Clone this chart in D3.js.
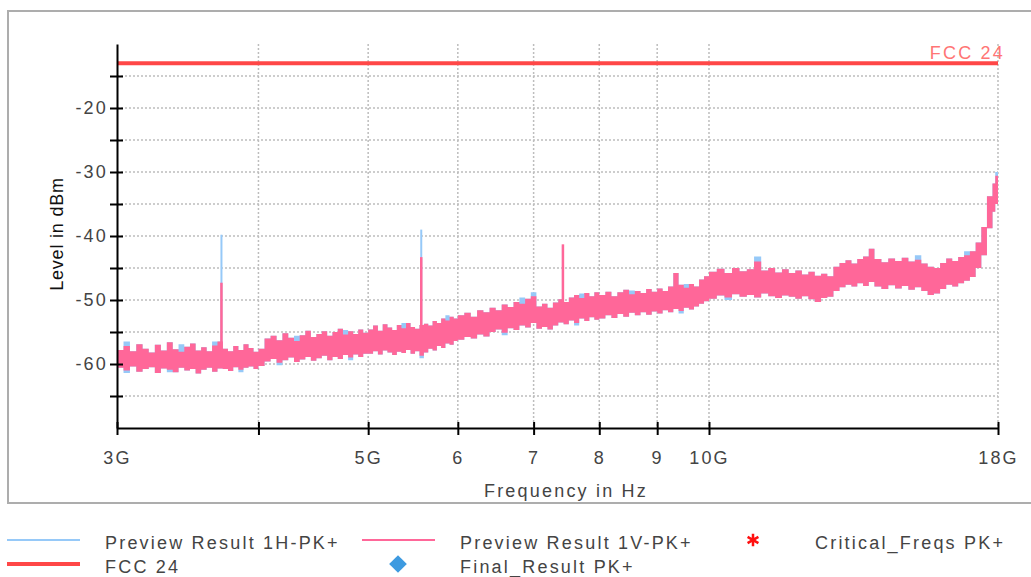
<!DOCTYPE html>
<html>
<head>
<meta charset="utf-8">
<script src="https://cdn.jsdelivr.net/npm/d3@7"></script>
<style>
  body { margin: 0; background: #fff; }
  svg { display: block; font-family: "Liberation Sans", Arial, sans-serif; }
  .lbl { fill: #444; font-size: 18px; letter-spacing: 2.2px; }
</style>
</head>
<body>
<svg id="chart" width="1031" height="577"></svg>
<script>
// Sweep frequencies (GHz)
const freqs = [
  3.00,3.04,3.08,3.12,3.16,3.20,3.24,3.28,3.32,3.36,3.40,3.44,3.48,3.52,3.56,3.60,3.64,3.68,3.72,3.76,3.80,3.84,3.88,3.92,3.96,
  4.00,4.05,4.10,4.15,4.20,4.25,4.30,4.35,4.40,4.45,4.50,4.55,4.60,4.65,4.70,4.75,4.80,4.85,4.90,4.95,
  5.00,5.05,5.10,5.15,5.20,5.25,5.30,5.35,5.40,5.45,5.50,5.55,5.60,5.65,5.70,5.75,5.80,5.85,5.90,5.95,
  6.00,6.08,6.16,6.24,6.32,6.40,6.48,6.56,6.64,6.72,6.80,6.88,6.96,7.04,7.12,7.20,7.28,7.36,7.44,7.52,7.60,7.68,7.76,7.84,7.92,
  8.0,8.1,8.2,8.3,8.4,8.5,8.6,8.7,8.8,8.9,9.0,9.1,9.2,9.3,9.4,9.5,9.6,9.7,9.8,9.9,
  10.00,10.16,10.32,10.48,10.64,10.80,10.96,11.12,11.28,11.44,11.60,11.76,11.92,12.08,12.24,12.40,12.56,12.72,12.88,13.04,13.20,13.36,13.52,13.68,13.84,
  14.0,14.2,14.4,14.6,14.8,15.0,15.2,15.4,15.6,15.8,16.0,16.2,16.4,16.6,16.8,17.0,17.2,17.4,17.6,17.8,17.9,18.0
];

// Preview Result 1V-PK+ (pink), max / min per sweep bin, dBm
const vHi = [
  -57.8,-57.2,-58.0,-56.9,-57.6,-58.2,-57.0,-57.9,-56.6,-57.7,-58.1,-57.3,-56.8,-57.9,-57.4,-58.0,-57.1,-56.5,-57.6,-58.0,-57.2,-57.8,-56.9,-57.5,-58.1,
  -57.6,-56.0,-55.6,-56.3,-55.2,-55.9,-56.4,-55.5,-54.8,-55.8,-55.3,-54.9,-55.6,-55.0,-54.5,-55.4,-54.9,-55.3,-54.6,-55.1,
  -54.6,-54.0,-54.8,-53.8,-54.3,-54.7,-53.9,-54.4,-53.6,-54.2,-54.5,-53.9,-53.7,-54.0,-53.3,-53.6,-52.9,-53.2,-52.6,-52.9,
  -52.4,-52.0,-52.6,-51.6,-51.9,-51.2,-51.6,-50.7,-51.1,-50.3,-50.6,-49.8,-49.4,-51.0,-50.6,-51.2,-50.4,-49.9,-50.3,-49.6,-49.2,-49.7,-48.9,-49.4,-48.8,
  -49.2,-48.7,-49.4,-48.8,-48.4,-49.1,-48.6,-48.9,-48.3,-48.7,-48.2,-48.6,-47.9,-45.8,-47.6,-48.1,-47.5,-47.9,-46.8,-46.3,
  -45.6,-45.1,-45.8,-45.0,-45.5,-45.2,-44.0,-45.4,-45.0,-45.7,-45.2,-45.8,-45.4,-46.0,-45.6,-46.2,-45.9,-46.3,-44.8,-44.2,-43.8,-44.3,-43.6,-43.2,-42.0,
  -43.6,-44.1,-43.5,-43.9,-43.4,-44.0,-43.7,-44.3,-44.8,-45.0,-44.2,-43.5,-43.9,-43.3,-43.0,-42.4,-41.0,-38.6,-33.8,-31.8,-30.6,-30.4
];
const vLo = [
  -60.6,-61.0,-60.4,-61.2,-60.8,-60.5,-61.4,-60.7,-60.9,-61.3,-60.6,-61.0,-60.8,-61.5,-60.9,-60.6,-61.2,-60.7,-60.8,-61.1,-60.5,-60.9,-60.6,-60.4,-60.8,
  -60.3,-59.6,-59.2,-59.8,-59.4,-59.0,-59.7,-59.3,-58.9,-59.5,-59.1,-58.7,-59.4,-58.9,-59.2,-58.6,-59.0,-58.5,-58.9,-58.4,
  -58.4,-58.0,-58.5,-57.9,-58.2,-58.6,-58.1,-58.3,-57.8,-58.4,-58.0,-58.7,-58.2,-57.6,-57.9,-57.2,-57.5,-56.8,-57.0,-56.4,
  -56.2,-55.8,-56.0,-55.4,-55.7,-55.0,-54.6,-55.1,-54.4,-54.7,-54.0,-54.3,-53.6,-54.5,-54.2,-54.6,-54.0,-53.5,-53.8,-53.2,-53.6,-52.9,-53.3,-52.7,-53.1,
  -52.9,-52.4,-52.8,-52.2,-52.6,-52.0,-52.4,-51.9,-52.3,-51.8,-52.1,-51.6,-51.9,-51.4,-51.7,-51.2,-51.5,-51.0,-50.6,-50.2,
  -49.8,-49.3,-49.6,-49.1,-49.5,-49.2,-49.6,-49.0,-49.4,-49.7,-49.3,-49.5,-49.8,-49.4,-49.9,-50.3,-49.7,-49.5,-48.6,-48.0,-47.6,-47.9,-47.4,-47.8,-47.2,
  -47.9,-48.3,-47.7,-48.2,-47.8,-48.4,-48.0,-48.6,-49.2,-49.0,-48.3,-47.6,-47.9,-47.4,-47.0,-46.4,-45.0,-43.0,-38.8,-36.2,-35.0,-34.8
];

// Preview Result 1H-PK+ (blue), max / min per sweep bin, dBm
const hHi = [
  -57.8,-56.5,-58.0,-56.9,-57.6,-58.2,-57.0,-57.9,-56.6,-57.7,-56.9,-57.3,-56.8,-57.9,-57.4,-58.0,-56.5,-56.5,-57.6,-58.0,-57.2,-57.8,-56.9,-57.5,-58.1,
  -57.6,-56.0,-55.6,-56.3,-55.2,-55.9,-55.6,-55.5,-54.8,-55.8,-55.3,-54.9,-55.6,-55.0,-54.5,-54.7,-54.9,-55.3,-54.6,-55.1,
  -54.6,-54.0,-54.8,-53.8,-54.3,-54.7,-53.9,-53.6,-53.6,-54.2,-54.5,-53.9,-53.7,-54.0,-53.3,-53.6,-52.9,-52.4,-52.6,-52.9,
  -52.4,-52.0,-52.6,-51.6,-51.9,-51.2,-51.6,-50.7,-51.1,-50.3,-49.6,-49.8,-48.8,-51.0,-50.6,-51.2,-50.4,-49.9,-50.3,-49.6,-49.2,-49.0,-48.9,-49.4,-48.8,
  -49.2,-48.7,-49.4,-48.8,-48.4,-48.5,-48.6,-48.9,-48.3,-48.7,-48.2,-48.6,-47.9,-45.8,-47.6,-47.5,-47.5,-47.9,-46.8,-46.3,
  -45.6,-45.1,-45.8,-45.0,-45.5,-45.2,-43.2,-45.4,-45.0,-45.7,-45.2,-45.8,-45.4,-46.0,-45.6,-46.2,-45.9,-46.3,-44.8,-44.2,-43.8,-44.3,-43.6,-43.2,-42.0,
  -43.6,-44.1,-43.5,-43.9,-43.4,-44.0,-43.0,-44.3,-44.8,-45.0,-44.2,-43.5,-43.9,-43.3,-42.4,-42.4,-41.0,-38.6,-33.8,-31.8,-30.0,-29.9
];
const hLo = [
  -60.6,-61.4,-60.4,-61.2,-60.8,-60.5,-61.4,-60.7,-61.3,-61.3,-60.6,-61.0,-60.8,-61.5,-60.9,-60.6,-61.2,-60.7,-60.8,-61.1,-60.5,-61.3,-60.6,-60.4,-60.8,
  -60.3,-59.6,-59.2,-60.2,-59.4,-59.0,-59.7,-59.3,-58.9,-59.5,-59.1,-58.7,-59.4,-58.9,-59.2,-58.6,-59.4,-58.5,-58.9,-58.4,
  -58.4,-58.0,-58.5,-57.9,-58.2,-58.6,-58.1,-58.3,-57.8,-58.4,-58.0,-59.1,-58.2,-57.6,-57.9,-57.2,-57.5,-56.8,-57.0,-56.4,
  -56.2,-55.8,-56.0,-55.4,-55.7,-55.0,-54.6,-55.5,-54.4,-54.7,-54.0,-54.3,-53.6,-54.5,-54.2,-54.6,-54.0,-53.5,-53.8,-53.2,-54.0,-52.9,-53.3,-52.7,-53.1,
  -52.9,-52.4,-52.8,-52.2,-52.6,-52.0,-52.4,-51.9,-52.3,-51.8,-52.1,-51.6,-51.9,-51.4,-52.1,-51.2,-51.5,-51.0,-50.6,-50.2,
  -49.8,-49.3,-50.0,-49.1,-49.5,-49.2,-49.6,-49.0,-49.4,-49.7,-49.3,-49.5,-49.8,-49.4,-49.9,-50.3,-49.7,-49.5,-48.6,-48.0,-47.6,-47.9,-47.4,-47.8,-47.2,
  -47.9,-48.3,-47.7,-48.2,-47.8,-48.4,-48.0,-48.6,-49.2,-49.0,-48.3,-47.6,-47.9,-47.4,-47.0,-46.4,-45.0,-43.0,-38.8,-36.2,-35.0,-34.8
];

// narrow spurs
const spurFreqs = [3.71, 5.57, 7.43];
const spurBase = [-58, -55, -51];
const spurH = [-39.8, -39.0, -41.5];
const spurV = [-47.3, -43.3, -41.3];

// limit line
const limitFreqs = [3, 18];
const limitLevel = [-13, -13];

// axis ticks
const xTicks = [3, 4, 5, 6, 7, 8, 9, 10, 18];
const xTickLabels = ["3G", "", "5G", "6", "7", "8", "9", "10G", "18G"];
const yTicks = [-65, -60, -55, -50, -45, -40, -35, -30, -25, -20, -15];

const blue = "#96c9f8", pink = "#ff6799", red = "#ff4747";

const svg = d3.select("#chart");

const x = d3.scaleLog().domain([3, 18]).range([117, 998]);
const y = d3.scaleLinear().domain([-70, -10]).range([428, 44]);

// frame (right edge runs off the page)
svg.append("rect")
  .attr("x", 8).attr("y", 11).attr("width", 1030).attr("height", 492)
  .attr("fill", "none").attr("stroke", "#adadad").attr("stroke-width", 2);

// grid
const grid = svg.append("g").attr("stroke", "#bdbdbd").attr("stroke-width", 1.5)
  .attr("stroke-dasharray", "2,2");
grid.selectAll(".hg").data(yTicks).join("line").attr("class", "hg")
  .attr("x1", x(3)).attr("x2", x(18)).attr("y1", d => y(d)).attr("y2", d => y(d));
grid.selectAll(".vg").data(xTicks.slice(1)).join("line").attr("class", "vg")
  .attr("x1", d => x(d)).attr("x2", d => x(d)).attr("y1", y(-10)).attr("y2", y(-70));

// traces
const pts = freqs.map((f, i) => ({ f, hHi: hHi[i], hLo: hLo[i], vHi: vHi[i], vLo: vLo[i] }));

const areaH = d3.area().curve(d3.curveStepAfter)
  .x(d => x(d.f)).y0(d => y(d.hLo)).y1(d => y(d.hHi));
const areaV = d3.area().curve(d3.curveStepAfter)
  .x(d => x(d.f)).y0(d => y(d.vLo)).y1(d => y(d.vHi));

svg.append("path").datum(pts).attr("d", areaH).attr("fill", blue);
svg.selectAll(".spH").data(spurFreqs).join("line").attr("class", "spH")
  .attr("x1", d => x(d)).attr("x2", d => x(d))
  .attr("y1", (d, i) => y(spurBase[i])).attr("y2", (d, i) => y(spurH[i]))
  .attr("stroke", blue).attr("stroke-width", 2);

svg.append("path").datum(pts).attr("d", areaV).attr("fill", pink);
svg.selectAll(".spV").data(spurFreqs).join("line").attr("class", "spV")
  .attr("x1", d => x(d)).attr("x2", d => x(d))
  .attr("y1", (d, i) => y(spurBase[i])).attr("y2", (d, i) => y(spurV[i]))
  .attr("stroke", pink).attr("stroke-width", 2.5);

// limit line
svg.append("path")
  .datum(limitFreqs.map((f, i) => [f, limitLevel[i]]))
  .attr("d", d3.line().x(d => x(d[0])).y(d => y(d[1])))
  .attr("stroke", red).attr("stroke-width", 4).attr("fill", "none");
svg.append("text").attr("class", "lbl")
  .attr("x", 1005).attr("y", 59).attr("text-anchor", "end")
  .style("fill", "#ff7575").text("FCC 24");

// axes
const xAxis = svg.append("g").attr("transform", `translate(0,${y(-70)})`)
  .call(d3.axisBottom(x).tickValues(xTicks).tickFormat((d, i) => xTickLabels[i]).tickSizeOuter(0));
xAxis.select(".domain").attr("stroke", "#000").attr("stroke-width", 2);
xAxis.selectAll(".tick line").attr("y1", -6).attr("y2", 7).attr("stroke-width", 2);
xAxis.selectAll(".tick text").attr("class", "lbl").attr("y", 36).attr("dy", 0)
  .attr("font-family", null).attr("font-size", null);

const yAxis = svg.append("g").attr("transform", `translate(${x(3)},0)`)
  .call(d3.axisLeft(y).tickValues(yTicks).tickFormat(d => d % 10 === 0 ? d : "").tickSizeOuter(0));
yAxis.select(".domain").attr("stroke", "#000").attr("stroke-width", 2);
yAxis.selectAll(".tick line").attr("x1", -7).attr("x2", 6).attr("stroke-width", 2);
yAxis.selectAll(".tick text").attr("class", "lbl").attr("x", -9)
  .attr("font-family", null).attr("font-size", null);

// axis titles
svg.append("text").attr("class", "lbl")
  .attr("x", 566).attr("y", 497).attr("text-anchor", "middle")
  .text("Frequency in Hz");
svg.append("text")
  .attr("transform", "translate(63,234) rotate(-90)")
  .attr("text-anchor", "middle").attr("font-size", 18).attr("fill", "#111")
  .style("letter-spacing", "0.8px")
  .text("Level in dBm");

// legend
const legend = svg.append("g");
legend.append("line").attr("x1", 7).attr("x2", 80).attr("y1", 540).attr("y2", 540)
  .attr("stroke", blue).attr("stroke-width", 2);
legend.append("text").attr("class", "lbl").attr("x", 105).attr("y", 549).text("Preview Result 1H-PK+");
legend.append("line").attr("x1", 362).attr("x2", 435).attr("y1", 540).attr("y2", 540)
  .attr("stroke", pink).attr("stroke-width", 2);
legend.append("text").attr("class", "lbl").attr("x", 460).attr("y", 549).text("Preview Result 1V-PK+");
legend.append("path").attr("transform", "translate(753,540)")
  .attr("d", d3.symbol(d3.symbolAsterisk, 110)())
  .attr("stroke", "#ff1010").attr("stroke-width", 2.5).attr("fill", "none");
legend.append("text").attr("class", "lbl").attr("x", 815).attr("y", 549).text("Critical_Freqs PK+");
legend.append("line").attr("x1", 7).attr("x2", 80).attr("y1", 564).attr("y2", 564)
  .attr("stroke", red).attr("stroke-width", 4);
legend.append("text").attr("class", "lbl").attr("x", 105).attr("y", 573).text("FCC 24");
legend.append("path").attr("transform", "translate(398,564)")
  .attr("d", d3.symbol(d3.symbolDiamond2, 200)())
  .attr("fill", "#3d9ae0");
legend.append("text").attr("class", "lbl").attr("x", 460).attr("y", 573).text("Final_Result PK+");
</script>
</body>
</html>
